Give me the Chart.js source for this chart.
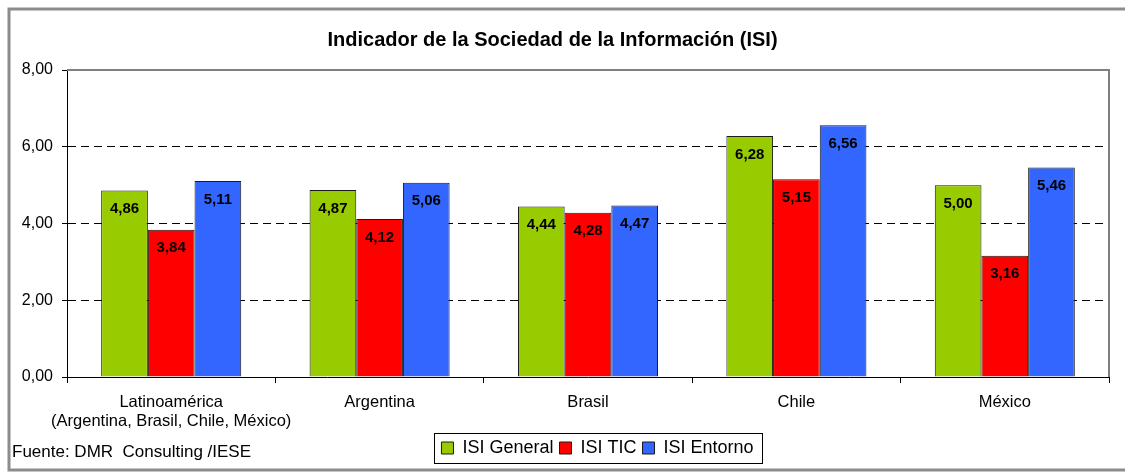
<!DOCTYPE html>
<html>
<head>
<meta charset="utf-8">
<script src="https://cdn.jsdelivr.net/npm/chart.js@4/dist/chart.umd.min.js"></script>
<style>
  html, body { margin: 0; padding: 0; background: #fff; }
  #wrap { width: 1125px; height: 472px; }
</style>
</head>
<body>
<div id="wrap"><canvas id="c" width="1125" height="472"></canvas></div>
<script>
const categories = [
  ["Latinoamérica", "(Argentina, Brasil, Chile, México)"],
  "Argentina", "Brasil", "Chile", "México"
];
const isiGeneral = [4.86, 4.87, 4.44, 6.28, 5.00];
const isiTIC     = [3.84, 4.12, 4.28, 5.15, 3.16];
const isiEntorno = [5.11, 5.06, 4.47, 6.56, 5.46];
const seriesNames = ["ISI General", "ISI TIC", "ISI Entorno"];
const seriesColors = ["#99CC00", "#FF0000", "#3366FF"];
const yTicks = [0, 2, 4, 6, 8];
const chartTitle = "Indicador de la Sociedad de la Información (ISI)";
const sourceNote = "Fuente: DMR  Consulting /IESE";

const FONT = "'Liberation Sans', Arial, sans-serif";
const fmt = v => v.toFixed(2).replace('.', ',');

const decor = {
  id: 'decor',
  afterLayout(chart) {
    const lg = chart.legend;
    if (lg) { lg.left += 39; lg.right += 39; lg.top -= 1; lg.bottom -= 1; }
    const tb = chart.titleBlock;
    if (tb) { tb.left -= 6; tb.right -= 6; }
  },
  beforeDraw(chart) {
    const ctx = chart.ctx;
    ctx.save();
    ctx.fillStyle = '#fff';
    ctx.fillRect(0, 0, chart.width, chart.height);
    ctx.restore();
  },
  afterDraw(chart) {
    const ctx = chart.ctx;
    const a = chart.chartArea;
    ctx.save();
    // plot area top/right border
    ctx.strokeStyle = '#808080';
    ctx.lineWidth = 2;
    ctx.beginPath();
    ctx.moveTo(a.left, a.top);
    ctx.lineTo(a.right, a.top);
    ctx.lineTo(a.right, a.bottom);
    ctx.stroke();
    // outer frame
    ctx.strokeStyle = '#8c8c8c';
    ctx.lineWidth = 3;
    ctx.strokeRect(9, 9, chart.width + 20, 461);
    // legend frame
    const lg = chart.legend;
    if (lg && lg.legendHitBoxes && lg.legendHitBoxes.length) {
      const hbs = lg.legendHitBoxes;
      let l = Infinity, r = -Infinity, t = Infinity, b = -Infinity;
      hbs.forEach(h => { l = Math.min(l, h.left); r = Math.max(r, h.left + h.width); t = Math.min(t, h.top); b = Math.max(b, h.top + h.height); });
      ctx.strokeStyle = '#000';
      ctx.lineWidth = 1;
      ctx.strokeRect(Math.round(l - 7) + 0.5, Math.round(t - 6) + 0.5, Math.round(r - l + 16), Math.round(b - t + 12));
    }
    // source note
    ctx.fillStyle = '#000';
    ctx.font = '17px ' + FONT;
    ctx.textBaseline = 'middle';
    ctx.textAlign = 'left';
    ctx.fillText(sourceNote, 12, 452);
    ctx.restore();
  },
  afterDatasetsDraw(chart) {
    const ctx = chart.ctx;
    ctx.save();
    ctx.fillStyle = '#000';
    ctx.font = 'bold 15px ' + FONT;
    ctx.textAlign = 'center';
    ctx.textBaseline = 'middle';
    chart.data.datasets.forEach((ds, di) => {
      const meta = chart.getDatasetMeta(di);
      meta.data.forEach((el, i) => {
        ctx.fillText(fmt(ds.data[i]), el.x, el.y + 18.5);
      });
    });
    ctx.restore();
  }
};

const dataSeries = [isiGeneral, isiTIC, isiEntorno];

new Chart(document.getElementById('c'), {
  type: 'bar',
  data: {
    labels: categories,
    datasets: dataSeries.map((d, i) => ({
      label: seriesNames[i],
      data: d,
      backgroundColor: seriesColors[i],
      borderColor: '#1a1a1a',
      borderWidth: 1,
      categoryPercentage: 0.672,
      barPercentage: 1.0
    }))
  },
  options: {
    responsive: false,
    animation: false,
    devicePixelRatio: 1,
    layout: { padding: { left: 8, right: 16, top: 8, bottom: 4 } },
    plugins: {
      title: {
        display: true,
        text: chartTitle,
        color: '#000',
        font: { family: FONT, size: 20, weight: 'bold', lineHeight: 1.2 },
        padding: { top: 20, bottom: 18 }
      },
      legend: {
        display: true,
        position: 'bottom',
        labels: {
          color: '#000',
          font: { family: FONT, size: 18 },
          boxWidth: 12,
          boxHeight: 12,
          padding: 6
        }
      },
      tooltip: { enabled: false }
    },
    scales: {
      x: {
        offset: true,
        grid: {
          offset: true,
          drawOnChartArea: false,
          drawTicks: true,
          tickLength: 6,
          tickColor: '#000',
          color: '#000'
        },
        border: { display: true, color: '#000', width: 1 },
        ticks: {
          color: '#000',
          padding: 10,
          maxRotation: 0,
          autoSkip: false,
          font: { family: FONT, size: 16.5, lineHeight: 1.15 }
        },
        afterFit(s) { s.height = 57; }
      },
      y: {
        min: 0,
        max: 8,
        afterBuildTicks(s) { s.ticks = yTicks.map(v => ({ value: v })); },
        grid: {
          color: c => (c.tick && (c.tick.value === 0 || c.tick.value === 8)) ? 'rgba(0,0,0,0)' : '#000',
          tickColor: '#000',
          tickLength: 5,
          lineWidth: 1
        },
        border: { display: true, color: '#000', width: 1, dash: [8, 5] },
        ticks: {
          color: '#000',
          padding: 9,
          font: { family: FONT, size: 16 },
          callback: v => fmt(v)
        },
        afterFit(s) { s.width = 59; }
      }
    }
  },
  plugins: [decor]
});
</script>
</body>
</html>
